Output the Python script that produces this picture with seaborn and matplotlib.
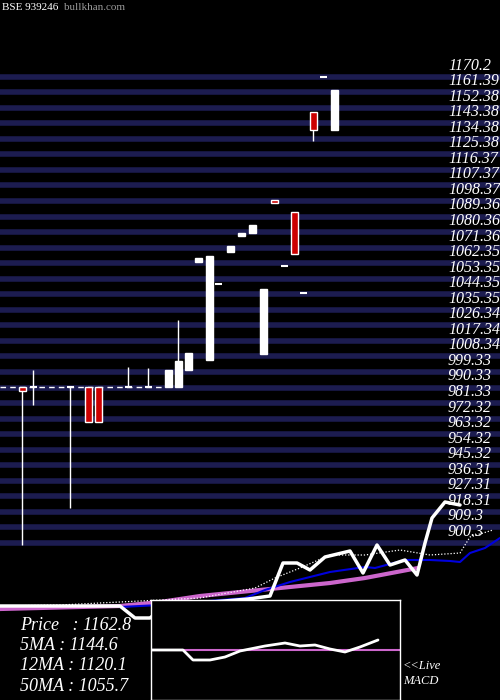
import matplotlib
matplotlib.use("Agg")
import matplotlib.pyplot as plt
import seaborn as sns
import pandas as pd
from matplotlib.patches import Rectangle

sns.set_theme(style="dark", rc={"axes.facecolor": "black", "figure.facecolor": "black"})
plt.rcParams['font.family'] = ['Liberation Serif', 'DejaVu Serif']

# price grid labels
levels = [1170.2, 1161.39, 1152.38, 1143.38, 1134.38, 1125.38, 1116.37, 1107.37, 1098.37,
          1089.36, 1080.36, 1071.36, 1062.35, 1053.35, 1044.35, 1035.35, 1026.34, 1017.34,
          1008.34, 999.33, 990.33, 981.33, 972.32, 963.32, 954.32, 945.32, 936.31, 927.31,
          918.31, 909.3, 900.3]

# candles: position, open, close, high, low
c_x = [22, 33, 70, 88, 98, 128, 148, 168, 178, 188, 198, 209, 218, 230, 241, 252, 263, 274, 284, 294, 303, 313, 323, 334]
c_open = [990.6, 990.6, 990.6, 990.6, 990.6, 990.6, 990.6, 990.6, 990.6, 1000.5, 1063.0, 1006.3, 1050.3, 1068.8,
          1078.1, 1079.8, 1009.8, 1099.0, 1060.7, 1092.0, 1045.1, 1149.9, 1170.2, 1139.5]
c_close = [988.3, 990.6, 990.6, 970.4, 970.4, 990.6, 990.6, 1000.5, 1005.7, 1010.3, 1065.4, 1066.5, 1050.3, 1072.3,
           1079.8, 1084.5, 1047.4, 1097.2, 1060.7, 1067.7, 1045.1, 1139.5, 1170.2, 1162.7]
c_high = [990.6, 1000.5, 990.6, 990.6, 990.6, 1002.2, 1001.7, 1000.5, 1029.5, 1010.3, 1065.4, 1066.5, 1050.3, 1072.3,
          1079.8, 1084.5, 1047.4, 1099.0, 1060.7, 1092.0, 1045.1, 1149.9, 1170.2, 1162.7]
c_low = [899.1, 980.2, 920.6, 970.4, 970.4, 990.6, 990.6, 990.6, 990.6, 1000.5, 1063.0, 1006.3, 1050.3, 1068.8,
         1078.1, 1079.8, 1009.8, 1097.2, 1060.7, 1067.7, 1045.1, 1133.1, 1170.2, 1139.5]

# indicator lines (screen-like scale, larger = lower)
price_x = [0, 43, 87, 120, 135, 150, 165, 248, 270, 283, 297, 310, 325, 350, 363, 377, 390, 405, 417, 425, 432, 445, 460]
price_y = [606, 606, 606, 606, 618, 618, 606, 599, 596, 563, 563, 570, 557, 551, 573, 545, 565, 560, 575, 543, 518, 502, 505]
ma5_x = [0, 60, 200, 255, 275, 300, 330, 365, 400, 430, 460, 470, 493]
ma5_y = [606, 605, 598, 588, 578, 568, 555, 555, 550, 555, 553, 537, 530]
ma12_x = [120, 160, 245, 265, 290, 330, 365, 375, 405, 430, 450, 460, 470, 485, 500]
ma12_y = [607, 605, 598, 590, 582, 572, 567, 568, 560, 560, 561, 562, 553, 548, 538]
ma50_x = [0, 120, 160, 200, 260, 330, 365, 418]
ma50_y = [609, 606, 602, 596, 590, 583, 578, 568]

macd_x = [151, 183, 193, 210, 225, 240, 265, 285, 300, 315, 330, 345, 360, 378]
macd_y = [0, 0, -10, -10, -7, -1, 4, 7, 4, 5, 1, -2, 3, 10]

fig = plt.figure(figsize=(5, 7), dpi=100)
ax = fig.add_axes([0, 0, 1, 1])
ax.set_xlim(0, 500)
ax.set_ylim(809.35, 1214.8)
ax.axis('off')

for lv in levels:
    ax.axhline(lv, color='#1c1c50', lw=4, zorder=1)
    ax.text(448, lv + 1.8, f"{lv}", color='white', fontsize=11.5, style='italic', va='bottom', zorder=5)

ax.hlines(990.6, 0, 165, colors='white', linestyles=(0, (4, 3)), lw=1, zorder=2)

w = 7
for x, o, c, h, l in zip(c_x, c_open, c_close, c_high, c_low):
    red = c < o
    ax.vlines(x, l, h, colors='white', lw=1, zorder=3)
    lo, hi = min(o, c), max(o, c)
    if hi - lo < 0.5:
        ax.hlines(lo, x - w / 2, x + w / 2, colors='white', lw=1.5, zorder=4)
    else:
        ax.add_patch(Rectangle((x - w / 2, lo), w, hi - lo, facecolor='#cc0000' if red else 'white',
                               edgecolor='white', lw=1, zorder=4))

fig.text(0.005, 0.995, "BSE 939246", color='white', fontsize=8, va='top')
fig.text(0.128, 0.995, "bullkhan.com", color='#999999', fontsize=8, va='top')

# moving averages overlay
ax2 = fig.add_axes([0, 0, 1, 1])
ax2.set_xlim(0, 500)
ax2.set_ylim(700, 0)
ax2.axis('off')
ax2.patch.set_alpha(0)
sns.lineplot(x=ma50_x, y=ma50_y, ax=ax2, color='#cc66cc', lw=3, sort=False)
sns.lineplot(x=ma12_x, y=ma12_y, ax=ax2, color='#0000dd', lw=1.5, sort=False)
sns.lineplot(x=ma5_x, y=ma5_y, ax=ax2, color='white', lw=0.9, linestyle=(0, (1, 1.5)), sort=False)
sns.lineplot(x=price_x, y=price_y, ax=ax2, color='white', lw=2.5, sort=False)

labels = ["Price   : 1162.8", "5MA : 1144.6", "12MA : 1120.1", "50MA : 1055.7"]
for i, t in enumerate(labels):
    ax2.text(20, 625 + i * 20.5, t, color='white', fontsize=13, style='italic', va='center')
ax2.text(403, 666, "<<Live", color='white', fontsize=9, style='italic', va='center')
ax2.text(403, 681, "MACD", color='white', fontsize=9, style='italic', va='center')

# MACD panel
ax3 = fig.add_axes([151 / 500, 0, 249 / 500, 100 / 700])
ax3.set_facecolor('black')
ax3.set_xlim(151, 400)
ax3.set_ylim(-50, 50)
ax3.set_xticks([])
ax3.set_yticks([])
for s in ax3.spines.values():
    s.set_color('white')
    s.set_linewidth(1)
ax3.axhline(0, color='#cc66cc', lw=1.5)
sns.lineplot(x=macd_x, y=macd_y, ax=ax3, color='white', lw=2, sort=False)

fig.savefig("out.png", dpi=100, facecolor='black')
